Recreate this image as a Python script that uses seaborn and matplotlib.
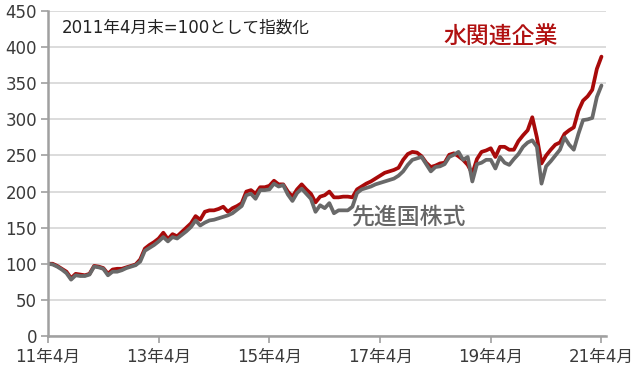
import matplotlib
matplotlib.use("Agg")
import matplotlib.pyplot as plt
import seaborn as sns
import pandas as pd
import numpy as np

# Monthly index values, 2011-04 .. 2021-04 (2011年4月末=100)
water = [100, 100, 97, 93, 89, 80, 86, 85, 84, 86,
         97, 96, 94, 86, 92, 93, 93, 95, 97, 99,
         106, 121, 126, 130, 135, 143, 134, 141, 138, 144,
         150, 156, 166, 161, 172, 174, 174, 176, 179, 172,
         177, 180, 184, 200, 202, 197, 206, 206, 208, 215,
         210, 210, 200, 193, 203, 210, 203, 197, 185, 193,
         195, 200, 192, 192, 193, 193, 192, 203, 207, 211,
         214, 218, 222, 226, 228, 230, 233, 244, 252, 255,
         254, 249, 240, 234, 236, 239, 240, 251, 253, 249,
         244, 237, 225, 245, 255, 257, 260, 248, 262, 262,
         258, 258, 270, 278, 285, 303, 275, 239, 250, 258,
         265, 268, 280, 285, 289, 312, 326, 332, 341, 370,
         387]
developed = [100, 99, 96, 92, 87, 78, 84, 83, 83, 85,
             96, 95, 93, 84, 89, 89, 91, 94, 96, 98,
             103, 118, 122, 126, 131, 137, 131, 137, 135, 140,
             145, 151, 160, 153, 157, 160, 161, 163, 165, 167,
             170, 175, 180, 195, 197, 190, 202, 202, 203, 211,
             207, 209, 196, 187, 198, 204, 197, 190, 172, 181,
             177, 184, 170, 174, 174, 174, 179, 198, 203, 205,
             207, 210, 212, 214, 216, 218, 222, 228, 237, 244,
             246, 248, 238, 228, 234, 235, 238, 248, 251, 255,
             244, 248, 214, 238, 240, 244, 244, 232, 248, 240,
             237, 245, 252, 262, 268, 271, 262, 211, 235, 242,
             250, 258, 275, 265, 258, 280, 299, 300, 302, 331,
             347]
tick_labels = ["11年4月", "13年4月", "15年4月", "17年4月", "19年4月", "21年4月"]
tick_months = [0, 24, 48, 72, 96, 120]
series_names = ["水関連企業", "先進国株式"]
colors = {"水関連企業": "#A80A0A", "先進国株式": "#696969"}

sns.set_theme(style="white")
fam = ["DejaVu Sans", "Noto Sans CJK JP"]
plt.rcParams["font.family"] = fam

months = np.arange(len(water))
df = pd.DataFrame({
    "m": np.concatenate([months, months]),
    "value": water + developed,
    "series": [series_names[0]] * len(water) + [series_names[1]] * len(developed),
})

fig = plt.figure(figsize=(6.4, 3.72), dpi=100)
ax = fig.add_axes([0.075, 0.097, 0.872, 0.873])

sns.lineplot(data=df, x="m", y="value", hue="series", palette=colors,
             hue_order=series_names, linewidth=2.7, legend=False, ax=ax)

ax.set_xlim(0, 121)
ax.set_ylim(0, 450)
ax.set_yticks(range(0, 451, 50))
ax.set_xticks(tick_months)
ax.set_xticklabels(tick_labels)
ax.set_xlabel("")
ax.set_ylabel("")

ax.yaxis.grid(True, color="#d9d9d9", linewidth=1.3)
ax.xaxis.grid(False)
ax.set_axisbelow(True)
for side in ["top", "right"]:
    ax.spines[side].set_visible(False)
for side in ["left", "bottom"]:
    ax.spines[side].set_color("#a0a0a0")
    ax.spines[side].set_linewidth(1.8)
ax.tick_params(axis="both", which="major", length=5, width=1.2, color="#a0a0a0",
               labelsize=12, labelcolor="#3a3a3a", direction="out",
               left=True, bottom=True)
ax.tick_params(axis="y", pad=3)
ax.tick_params(axis="x", pad=4)

fig.text(62 / 640, 1 - 28 / 372, "2011年4月末=100として指数化", fontsize=12,
         color="#222222", va="center", ha="left")
fig.text(443 / 640, 1 - 37 / 372, "水関連企業", fontsize=16.5, color="#B01010",
         va="center", ha="left", fontweight="medium",
         family=["Noto Sans CJK JP", "DejaVu Sans"])
fig.text(352 / 640, 1 - 217 / 372, "先進国株式", fontsize=16.5, color="#666666",
         va="center", ha="left", fontweight="medium",
         family=["Noto Sans CJK JP", "DejaVu Sans"])

fig.savefig("out.png", dpi=100)
